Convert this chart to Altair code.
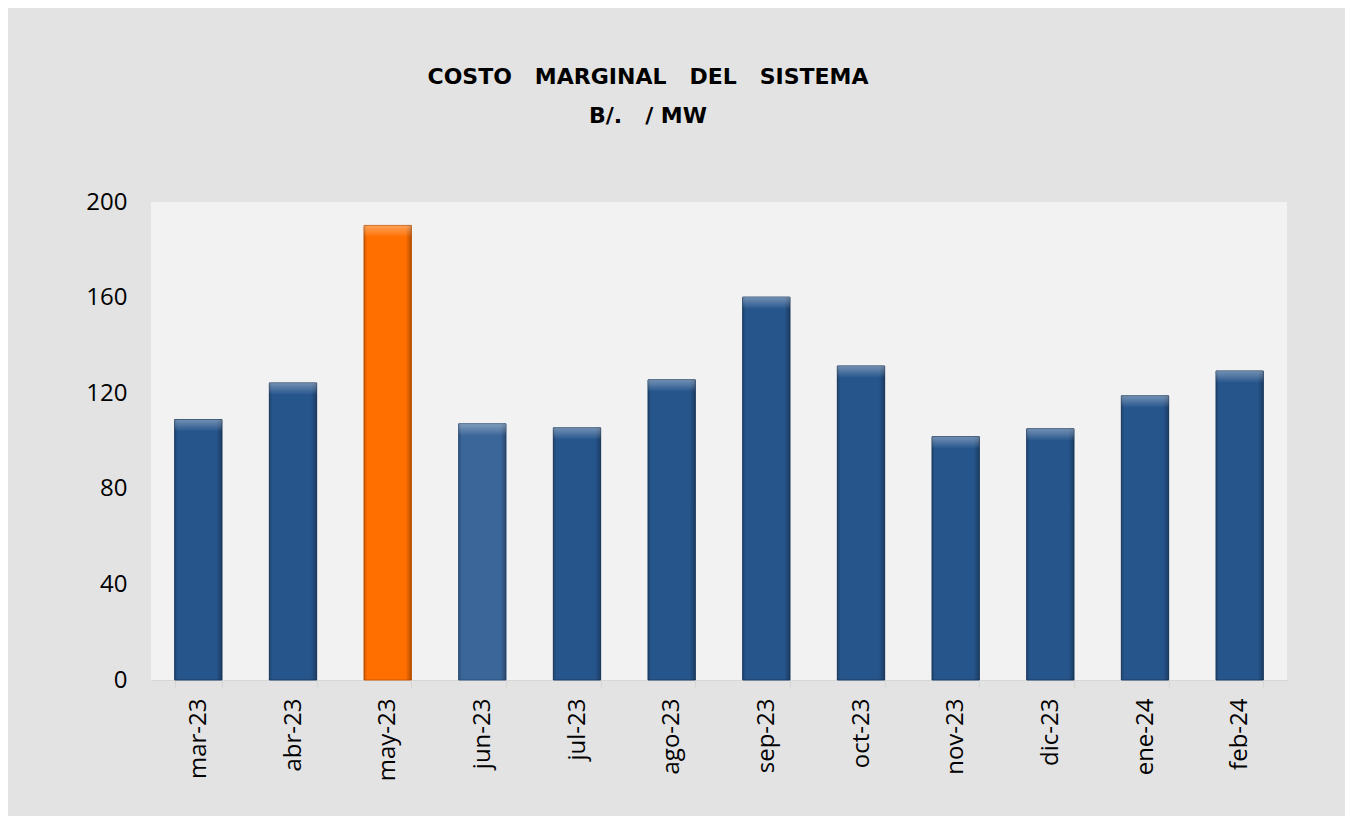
import altair as alt
import pandas as pd

meses = ["mar-23", "abr-23", "may-23", "jun-23", "jul-23", "ago-23",
         "sep-23", "oct-23", "nov-23", "dic-23", "ene-24", "feb-24"]
valores = [109.0, 124.3, 190.2, 107.2, 105.5, 125.6,
           160.2, 131.4, 101.8, 105.1, 118.9, 129.3]
tipos = ["base", "base", "destacado", "claro", "base", "base",
         "base", "base", "base", "base", "base", "base"]
titulo = ["COSTO\u00a0\u00a0 MARGINAL\u00a0\u00a0 DEL\u00a0\u00a0 SISTEMA", "B/.\u00a0\u00a0 / MW"]
ticks_y = [0, 40, 80, 120, 160, 200]

df = pd.DataFrame({"mes": meses, "valor": valores, "tipo": tipos})

x_enc = alt.X("mes:N", sort=meses, title=None,
              scale=alt.Scale(paddingInner=0.5, paddingOuter=0.25),
              axis=alt.Axis(labelAngle=-90, labelFont="Open Sans", labelFontSize=24,
                            labelColor="#000000", labelPadding=10,
                            domainColor="#d6d6d6", tickColor="#d6d6d6",
                            tickBand="extent", tickSize=8, grid=False))
y_enc = alt.Y("valor:Q", title=None,
              scale=alt.Scale(domain=[0, 200], nice=False),
              axis=alt.Axis(values=ticks_y, labelFont="Open Sans", labelFontSize=24,
                            labelColor="#000000", labelPadding=24, ticks=False,
                            domain=False, grid=False))

bars = alt.Chart(df).mark_bar(strokeWidth=1).encode(
    x=x_enc,
    y=y_enc,
    color=alt.Color("tipo:N", legend=None,
                    scale=alt.Scale(domain=["base", "claro", "destacado"],
                                    range=["#26558c", "#3b6699", "#ff6f00"])),
    stroke=alt.Stroke("tipo:N", legend=None,
                      scale=alt.Scale(domain=["base", "claro", "destacado"],
                                      range=["#1a3c64", "#2a4e7a", "#c85600"])),
)

# dark side edges
sombra = alt.Chart(df).mark_bar(
    color=alt.Gradient(
        gradient="linear", x1=0, y1=0, x2=1, y2=0,
        stops=[alt.GradientStop(color="rgba(0,0,0,0.18)", offset=0),
               alt.GradientStop(color="rgba(0,0,0,0)", offset=0.07),
               alt.GradientStop(color="rgba(0,0,0,0)", offset=0.88),
               alt.GradientStop(color="rgba(0,0,0,0.28)", offset=1)])
).encode(x=alt.X("mes:N", sort=meses), y=alt.Y("valor:Q"))

# light top bevel
bevel = alt.Chart(df).transform_calculate(
    tope="datum.valor - 5"
).mark_bar(
    color=alt.Gradient(
        gradient="linear", x1=0, y1=0, x2=0, y2=1,
        stops=[alt.GradientStop(color="rgba(255,255,255,0.35)", offset=0),
               alt.GradientStop(color="rgba(255,255,255,0.18)", offset=0.5),
               alt.GradientStop(color="rgba(255,255,255,0)", offset=1)])
).encode(
    x=alt.X("mes:N", sort=meses),
    y=alt.Y("valor:Q"),
    y2="tope:Q",
)

chart = alt.layer(bars, sombra, bevel).properties(
    width=1136,
    height=478,
    background="#e3e3e3",
    padding={"left": 143, "top": 194, "right": 58, "bottom": 136},
    autosize=alt.AutoSizeParams(type="none"),
    title=alt.TitleParams(text=titulo, anchor="middle", frame="group",
                          font="DejaVu Sans", fontSize=22, fontWeight="bold",
                          color="#000000", lineHeight=39, dx=-71, offset=62),
).configure_view(fill="#f2f2f2", stroke=None)

chart.save("out.html", embed_options={"renderer": "svg", "actions": False})
